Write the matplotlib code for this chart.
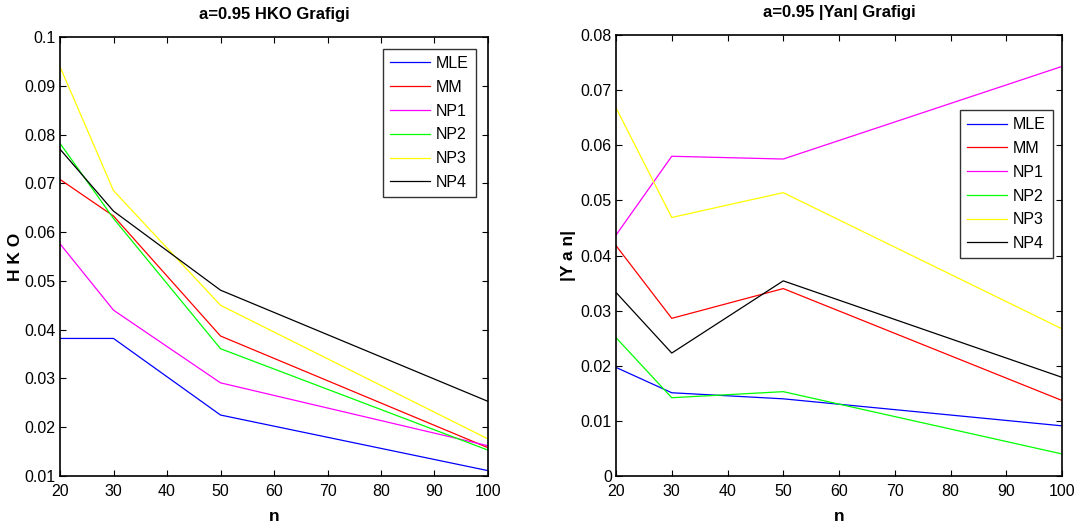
import matplotlib
matplotlib.use('Agg')
import matplotlib.pyplot as plt

plt.rcParams['font.family'] = ['Liberation Sans', 'DejaVu Sans']

n = [20, 30, 50, 100]
labels = ['MLE', 'MM', 'NP1', 'NP2', 'NP3', 'NP4']
colors = ['#0000ff', '#ff0000', '#ff00ff', '#00ff00', '#ffff00', '#000000']

# HKO values
hko_mle = [0.0382, 0.0382, 0.0225, 0.0111]
hko_mm = [0.0708, 0.0633, 0.0387, 0.0158]
hko_np1 = [0.0576, 0.0440, 0.0291, 0.0162]
hko_np2 = [0.0782, 0.0628, 0.0361, 0.0153]
hko_np3 = [0.0939, 0.0685, 0.0450, 0.0176]
hko_np4 = [0.0770, 0.0643, 0.0481, 0.0253]

# |Yan| values
yan_mle = [0.0197, 0.0151, 0.0140, 0.0091]
yan_mm = [0.0418, 0.0286, 0.0340, 0.0137]
yan_np1 = [0.0437, 0.0580, 0.0575, 0.0743]
yan_np2 = [0.0251, 0.0142, 0.0153, 0.0040]
yan_np3 = [0.0668, 0.0469, 0.0514, 0.0267]
yan_np4 = [0.0333, 0.0223, 0.0354, 0.0179]

hko = [hko_mle, hko_mm, hko_np1, hko_np2, hko_np3, hko_np4]
yan = [yan_mle, yan_mm, yan_np1, yan_np2, yan_np3, yan_np4]

W, H = 1088, 530
fig = plt.figure(figsize=(W / 100, H / 100), dpi=100)
ax1 = fig.add_axes([60 / W, 1 - 476 / H, 428 / W, 439 / H])
ax2 = fig.add_axes([616 / W, 1 - 476 / H, 446 / W, 441 / H])


def style(ax, yticks, ylim):
    ax.set_xlim(20, 100)
    ax.set_xticks([20, 30, 40, 50, 60, 70, 80, 90, 100])
    ax.set_ylim(*ylim)
    ax.set_yticks(yticks)
    ax.set_yticklabels([('%g' % v) for v in yticks])
    ax.tick_params(direction='in', top=True, right=True, labelsize=11.5,
                   length=4, width=0.8)
    ax.tick_params(axis='x', pad=6)
    ax.tick_params(axis='y', pad=3)
    for s in ax.spines.values():
        s.set_linewidth(1.2)
    ax.set_xlabel('n', fontsize=12.5, fontweight='bold', labelpad=7)


def legend(ax, anchor):
    leg = ax.legend(loc='upper right', bbox_to_anchor=anchor, borderaxespad=0,
                    fancybox=False, edgecolor='black', fontsize=11.5,
                    handlelength=2.5, handletextpad=0.35, labelspacing=0.55,
                    borderpad=0.45)
    leg.get_frame().set_linewidth(1.0)


for vals, lab, c in zip(hko, labels, colors):
    ax1.plot(n, vals, color=c, lw=0.9, label=lab)
style(ax1, [0.01, 0.02, 0.03, 0.04, 0.05, 0.06, 0.07, 0.08, 0.09, 0.1], (0.01, 0.1))
ax1.set_ylabel('H K O', fontsize=12.5, fontweight='bold', labelpad=1)
ax1.set_title('a=0.95 HKO Grafigi', fontsize=12, fontweight='bold', pad=13)
legend(ax1, (0.972, 0.973))

for vals, lab, c in zip(yan, labels, colors):
    ax2.plot(n, vals, color=c, lw=0.9, label=lab)
style(ax2, [0, 0.01, 0.02, 0.03, 0.04, 0.05, 0.06, 0.07, 0.08], (0, 0.08))
ax2.set_ylabel('|Y a n|', fontsize=12.5, fontweight='bold', labelpad=3)
ax2.set_title('a=0.95 |Yan| Grafigi', fontsize=12, fontweight='bold', pad=13)
legend(ax2, (0.980, 0.830))

fig.savefig('out.png', dpi=100)
